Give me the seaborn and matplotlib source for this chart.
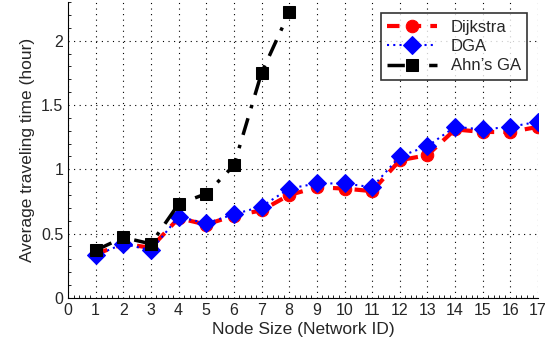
import pandas as pd
from matplotlib import pyplot as plt
from matplotlib.ticker import MultipleLocator
import seaborn as sns

node_ids = list(range(1, 18))
dijkstra = [0.34, 0.42, 0.39, 0.62, 0.57, 0.64, 0.68, 0.80, 0.86, 0.85, 0.83,
            1.07, 1.11, 1.31, 1.29, 1.29, 1.33]
dga = [0.33, 0.42, 0.37, 0.63, 0.58, 0.65, 0.71, 0.85, 0.89, 0.89, 0.86,
       1.10, 1.18, 1.33, 1.31, 1.33, 1.37]
ahn_ids = list(range(1, 9))
ahn_ga = [0.37, 0.47, 0.42, 0.73, 0.81, 1.03, 1.75, 2.22]

sns.set_style('white')
plt.rcParams['font.family'] = ['Liberation Sans', 'DejaVu Sans']

fig = plt.figure(figsize=(5.53, 3.48), dpi=100)
ax = fig.add_axes([0.123, 0.144, 0.850, 0.850])

sns.lineplot(x=node_ids, y=dijkstra, ax=ax, color='red', linestyle=(0, (3, 2.2)),
             linewidth=3, marker='o', markersize=9, markeredgecolor='red',
             label='Dijkstra')
sns.lineplot(x=node_ids, y=dga, ax=ax, color='blue', linestyle=(0, (1, 2)),
             linewidth=1.5, marker='D', markersize=9, markeredgecolor='blue',
             label='DGA')
sns.lineplot(x=ahn_ids, y=ahn_ga, ax=ax, color='black',
             linestyle=(0, (5, 3, 1, 3)), linewidth=2.5, marker='s',
             markersize=9, markeredgecolor='black', label="Ahn\u2019s GA")

ax.set_xlim(0, 17)
ax.set_ylim(0, 2.3)
ax.xaxis.set_major_locator(MultipleLocator(1))
ax.xaxis.set_minor_locator(MultipleLocator(0.2))
ax.yaxis.set_minor_locator(MultipleLocator(0.1))
ax.set_yticks([0, 0.5, 1, 1.5, 2])
ax.set_yticklabels(['0', '0.5', '1', '1.5', '2'])
ax.tick_params(which='both', direction='in', labelsize=11.5, color='black')
ax.tick_params(which='major', length=4, width=0.8)
ax.tick_params(which='minor', length=2, width=0.6, bottom=True, left=True)
ax.grid(True, which='major', linestyle=(0, (1, 4)), color='black', linewidth=0.8)

for side in ['top', 'right']:
    ax.spines[side].set_visible(False)
for side in ['left', 'bottom']:
    ax.spines[side].set_color('black')
    ax.spines[side].set_linewidth(0.8)

ax.set_xlabel('Node Size (Network ID)', fontsize=12.5, labelpad=3)
ax.set_ylabel('Average traveling time (hour)', fontsize=12.5)

leg = ax.legend(loc='upper right', fontsize=12, frameon=True, fancybox=False,
                handlelength=3, labelspacing=0.25, borderpad=0.4,
                borderaxespad=0.5, bbox_to_anchor=(0.995, 0.99))
leg.get_frame().set_edgecolor('black')
leg.get_frame().set_linewidth(1.2)

plt.savefig('out.png', dpi=100)
plt.close()
